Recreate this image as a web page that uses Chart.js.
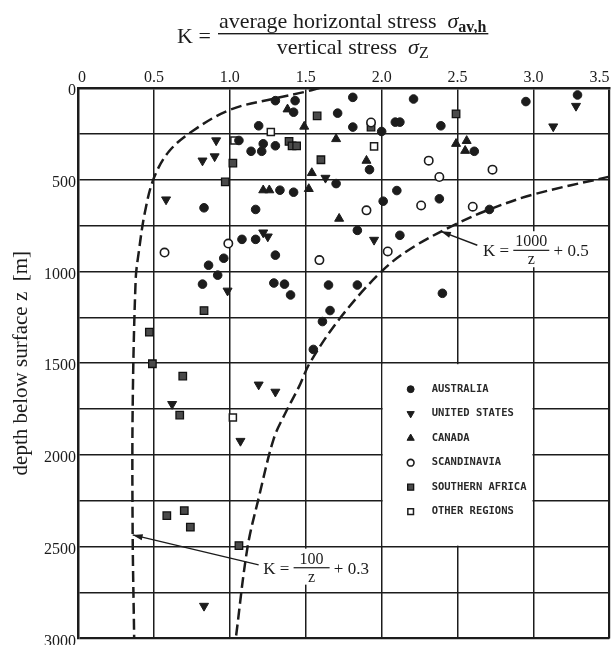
<!DOCTYPE html>
<html>
<head>
<meta charset="utf-8">
<script src="https://cdn.jsdelivr.net/npm/chart.js@4.4.0/dist/chart.umd.min.js"></script>
<style>
html, body { margin: 0; padding: 0; background: #fff; }
#wrap { width: 616px; height: 645px; position: relative; }
</style>
</head>
<body>
<div id="wrap"><canvas id="kChart"></canvas></div>
<script>
// K = sigma_av,h / sigma_z (x) against depth z in m (y)
var australiaK = [1.30, 1.43, 1.42, 1.71, 1.19, 1.06, 1.22, 1.30, 1.14, 1.21, 1.70, 1.33, 1.42, 0.83, 1.17, 1.08, 1.17, 1.30, 0.96, 0.86, 0.92, 0.82, 1.29, 1.36, 1.40, 1.65, 1.66, 1.61, 1.55, 1.81, 2.21, 2.95, 3.29, 1.81, 2.00, 2.09, 2.12, 2.39, 2.61, 1.92, 2.10, 2.01, 2.38, 2.71, 1.84, 2.12, 1.84, 2.40];
var australiaZ = [69, 69, 132, 137, 206, 286, 304, 315, 345, 345, 521, 557, 568, 653, 662, 825, 825, 911, 928, 966, 1020, 1069, 1063, 1069, 1128, 1074, 1213, 1273, 1425, 51, 60, 74, 38, 213, 237, 186, 186, 206, 345, 445, 559, 617, 604, 662, 776, 803, 1074, 1119];

var usK = [0.91, 0.82, 0.90, 1.63, 0.58, 1.22, 1.25, 0.985, 0.62, 1.19, 1.30, 1.07, 0.83, 3.28, 3.13, 1.95];
var usZ = [286, 396, 373, 490, 608, 788, 810, 1105, 1723, 1617, 1656, 1924, 2823, 98, 210, 828];

var canadaK = [1.38, 1.49, 1.70, 1.54, 1.22, 1.26, 1.52, 1.72, 2.49, 2.56, 2.55, 1.90];
var canadaZ = [116, 210, 278, 463, 557, 557, 550, 712, 304, 288, 342, 396];

var scandK = [0.99, 0.57, 1.59, 1.93, 2.31, 2.73, 2.38, 2.26, 1.90, 2.60, 2.04];
var scandZ = [848, 897, 938, 188, 396, 445, 485, 640, 667, 647, 891];

var safricaK = [1.575, 1.39, 1.41, 1.44, 1.02, 1.60, 0.97, 1.93, 2.49, 0.83, 0.47, 0.49, 0.69, 0.67, 0.585, 0.70, 0.74, 1.06];
var safricaZ = [152, 291, 315, 315, 409, 391, 512, 213, 141, 1213, 1331, 1503, 1570, 1783, 2331, 2304, 2394, 2494];

var otherK = [1.03, 1.27, 1.95, 1.02];
var otherZ = [286, 240, 318, 1796];

// dashed bounds, points
var upperCurveK = [1.59, 1.50, 1.30, 1.00, 0.75, 0.60, 0.50, 0.44, 0.40, 0.38, 0.36, 0.36, 0.37];
var upperCurveZ = [0, 20, 56, 119, 237, 345, 490, 680, 896, 1042, 1750, 2430, 3000];
var lowerCurveK = [3.50, 3.00, 2.71, 2.50, 2.22, 2.01, 1.73, 1.53, 1.455, 1.37, 1.29, 1.19, 1.116, 1.04];
var lowerCurveZ = [483, 580, 662, 738, 861, 991, 1250, 1494, 1629, 1765, 1910, 2235, 2506, 2995];

var regionNames = ['AUSTRALIA', 'UNITED STATES', 'CANADA', 'SCANDINAVIA', 'SOUTHERN AFRICA', 'OTHER REGIONS'];
var xTicks = [0, 0.5, 1.0, 1.5, 2.0, 2.5, 3.0, 3.5];
var yTicks = [0, 500, 1000, 1500, 2000, 2500, 3000];

function pts(xs, ys) {
    return xs.map(function (v, i) { return {x: v, y: ys[i]}; });
}

var ink = '#1c1c1c';
var serif = '"Liberation Serif", "Times New Roman", serif';

var datasets = [
    {label: regionNames[0], data: pts(australiaK, australiaZ), pointStyle: 'circle', pointRadius: 4.3, backgroundColor: ink, borderColor: ink, borderWidth: 1},
    {label: regionNames[1], data: pts(usK, usZ), pointStyle: 'triangle', rotation: 180, pointRadius: 5.2, backgroundColor: ink, borderColor: ink, borderWidth: 1},
    {label: regionNames[2], data: pts(canadaK, canadaZ), pointStyle: 'triangle', pointRadius: 5.2, backgroundColor: ink, borderColor: ink, borderWidth: 1},
    {label: regionNames[3], data: pts(scandK, scandZ), pointStyle: 'circle', pointRadius: 4.2, backgroundColor: '#fff', borderColor: ink, borderWidth: 1.6},
    {label: regionNames[4], data: pts(safricaK, safricaZ), pointStyle: 'rect', pointRadius: 5.3, backgroundColor: '#4a4a4a', borderColor: '#111', borderWidth: 1.3},
    {label: regionNames[5], data: pts(otherK, otherZ), pointStyle: 'rect', pointRadius: 5.0, backgroundColor: '#fff', borderColor: ink, borderWidth: 1.5},
    {label: 'upper', data: pts(upperCurveK, upperCurveZ), showLine: true, pointRadius: 0, borderColor: ink, borderWidth: 2.5, borderDash: [11, 5], tension: 0.35, fill: false},
    {label: 'lower', data: pts(lowerCurveK, lowerCurveZ), showLine: true, pointRadius: 0, borderColor: ink, borderWidth: 2.5, borderDash: [11, 5], tension: 0.35, fill: false}
];

// where the legend box and the curve labels sit, in axis units
var legendBox = {k0: 2.0, k1: 3.0, z0: 1500, z1: 2500};
var eqLabels = [
    {num: '1000', tail: '0.5', k: 2.667, z: 917, tipK: 2.39, tipZ: 781, endK: 2.63, endZ: 857},
    {num: '100', tail: '0.3', k: 1.22, z: 2647, tipK: 0.36, tipZ: 2436, endK: 1.19, endZ: 2599}
];

function arrow(ctx, x0, y0, x1, y1) {
    // line from (x1,y1) to tip (x0,y0)
    ctx.beginPath();
    ctx.moveTo(x1, y1);
    ctx.lineTo(x0, y0);
    ctx.lineWidth = 1.4;
    ctx.strokeStyle = ink;
    ctx.stroke();
    var a = Math.atan2(y1 - y0, x1 - x0);
    ctx.beginPath();
    ctx.moveTo(x0, y0);
    ctx.lineTo(x0 + 10 * Math.cos(a) - 3 * Math.sin(a), y0 + 10 * Math.sin(a) + 3 * Math.cos(a));
    ctx.lineTo(x0 + 10 * Math.cos(a) + 3 * Math.sin(a), y0 + 10 * Math.sin(a) - 3 * Math.cos(a));
    ctx.closePath();
    ctx.fillStyle = ink;
    ctx.fill();
}

function drawEq(ctx, x, y, num, tail) {
    ctx.textBaseline = 'alphabetic';
    ctx.font = '17px ' + serif;
    var w1 = ctx.measureText('K = ').width;
    var wt = ctx.measureText(' + ' + tail).width;
    ctx.font = '16px ' + serif;
    var wf = Math.max(ctx.measureText(num).width + 3, 36);
    ctx.fillStyle = '#fff';
    ctx.fillRect(x - 3, y - 25, w1 + wf + wt + 6, 36);
    ctx.fillStyle = ink;
    ctx.font = '17px ' + serif;
    ctx.textAlign = 'left';
    ctx.fillText('K = ', x, y);
    ctx.fillText(' + ' + tail, x + w1 + wf, y);
    ctx.font = '16px ' + serif;
    ctx.textAlign = 'center';
    ctx.fillText(num, x + w1 + wf / 2, y - 10);
    ctx.fillText('z', x + w1 + wf / 2, y + 8);
    ctx.fillRect(x + w1, y - 6.5, wf, 1.2);
    ctx.textAlign = 'left';
}

var annotations = {
    id: 'annotations',
    beforeDatasetsDraw: function (chart) {
        var ctx = chart.ctx, xs = chart.scales.x, ys = chart.scales.y;
        ctx.save();
        // legend panel: blank out the grid inside its cell block
        var bx0 = xs.getPixelForValue(legendBox.k0), bx1 = xs.getPixelForValue(legendBox.k1);
        var by0 = ys.getPixelForValue(legendBox.z0), by1 = ys.getPixelForValue(legendBox.z1);
        ctx.fillStyle = '#fff';
        ctx.fillRect(bx0 + 1, by0 + 1, bx1 - bx0 - 2, by1 - by0 - 2);
        for (var i = 0; i < 6; i++) {
            var ds = chart.data.datasets[i];
            var my = by0 + 26 + i * 24.5;
            ctx.fillStyle = ds.backgroundColor;
            ctx.strokeStyle = ds.borderColor;
            ctx.lineWidth = ds.borderWidth;
            Chart.helpers.drawPoint(ctx, {pointStyle: ds.pointStyle, rotation: ds.rotation || 0, radius: ds.pointRadius * 0.8, borderWidth: ds.borderWidth}, bx0 + 29, my);
            ctx.fillStyle = '#2a2a2a';
            ctx.font = 'bold 10.5px "DejaVu Sans Mono", monospace';
            ctx.textBaseline = 'middle';
            ctx.textAlign = 'left';
            ctx.fillText(ds.label, bx0 + 50, my);
        }
        eqLabels.forEach(function (e) {
            drawEq(ctx, xs.getPixelForValue(e.k), ys.getPixelForValue(e.z), e.num, e.tail);
            arrow(ctx, xs.getPixelForValue(e.tipK), ys.getPixelForValue(e.tipZ), xs.getPixelForValue(e.endK), ys.getPixelForValue(e.endZ));
        });
        ctx.restore();
    },
    afterDraw: function (chart) {
        var ctx = chart.ctx;
        ctx.save();
        ctx.fillStyle = ink;
        ctx.textBaseline = 'alphabetic';
        ctx.textAlign = 'left';
        ctx.font = '22px ' + serif;
        ctx.fillText('K =', 177, 43);
        // numerator
        var nx = 219, ny = 28;
        var t1 = 'average horizontal stress  ';
        ctx.fillText(t1, nx, ny);
        var w = nx + ctx.measureText(t1).width;
        ctx.font = 'italic 22px ' + serif;
        ctx.fillText('\u03c3', w, ny);
        w += ctx.measureText('\u03c3').width;
        ctx.font = 'bold 16px ' + serif;
        ctx.fillText('av,h', w, ny + 4);
        w += ctx.measureText('av,h').width;
        ctx.fillRect(nx - 1, 33, w - nx + 3, 1.4);
        // denominator
        ctx.font = '22px ' + serif;
        var t2 = 'vertical stress  ';
        var dw = ctx.measureText(t2).width;
        ctx.font = 'italic 22px ' + serif;
        var sw = ctx.measureText('\u03c3').width;
        ctx.font = '16px ' + serif;
        var zw = ctx.measureText('Z').width;
        var dx = (nx + w) / 2 - (dw + sw + zw) / 2, dy = 54;
        ctx.font = '22px ' + serif;
        ctx.fillText(t2, dx, dy);
        ctx.font = 'italic 22px ' + serif;
        ctx.fillText('\u03c3', dx + dw, dy);
        ctx.font = '16px ' + serif;
        ctx.fillText('Z', dx + dw + sw, dy + 4);
        ctx.restore();
    }
};

new Chart(document.getElementById('kChart'), {
    type: 'scatter',
    data: {datasets: datasets},
    options: {
        responsive: true,
        maintainAspectRatio: false,
        animation: false,
        layout: {padding: {left: 0, top: 0, right: 4, bottom: 4}},
        plugins: {legend: {display: false}, tooltip: {enabled: false}},
        scales: {
            x: {
                type: 'linear',
                position: 'top',
                min: 0,
                max: 3.5,
                afterBuildTicks: function (s) { s.ticks = xTicks.map(function (v) { return {value: v}; }); },
                afterFit: function (s) { s.height = 88; s.paddingLeft = 0; s.paddingRight = 0; },
                ticks: {
                    align: 'inner',
                    padding: 1,
                    color: ink,
                    font: {family: serif, size: 16},
                    callback: function (v) { return v === 0 ? '0' : v.toFixed(1); }
                },
                grid: {color: ink, lineWidth: function (c) { return c.tick && c.tick.value === 3.5 ? 2.2 : 1.5; }, drawTicks: false},
                border: {color: ink, width: 2.5}
            },
            y: {
                type: 'linear',
                reverse: true,
                min: 0,
                max: 3000,
                ticks: {
                    stepSize: 250,
                    padding: 2,
                    labelOffset: 3,
                    color: ink,
                    font: {family: serif, size: 16},
                    callback: function (v) { return yTicks.indexOf(v) >= 0 ? String(v) : ''; }
                },
                afterFit: function (s) { s.width = 78; s.paddingTop = 0; s.paddingBottom = 0; },
                grid: {color: ink, lineWidth: function (c) { return c.tick && c.tick.value === 3000 ? 2.2 : 1.5; }, drawTicks: false},
                border: {color: ink, width: 2.5},
                title: {
                    display: true,
                    text: 'depth below surface z  [m]',
                    color: ink,
                    font: {family: serif, size: 21},
                    padding: {top: 9, bottom: 0}
                }
            }
        }
    },
    plugins: [annotations]
});
</script>
</body>
</html>
